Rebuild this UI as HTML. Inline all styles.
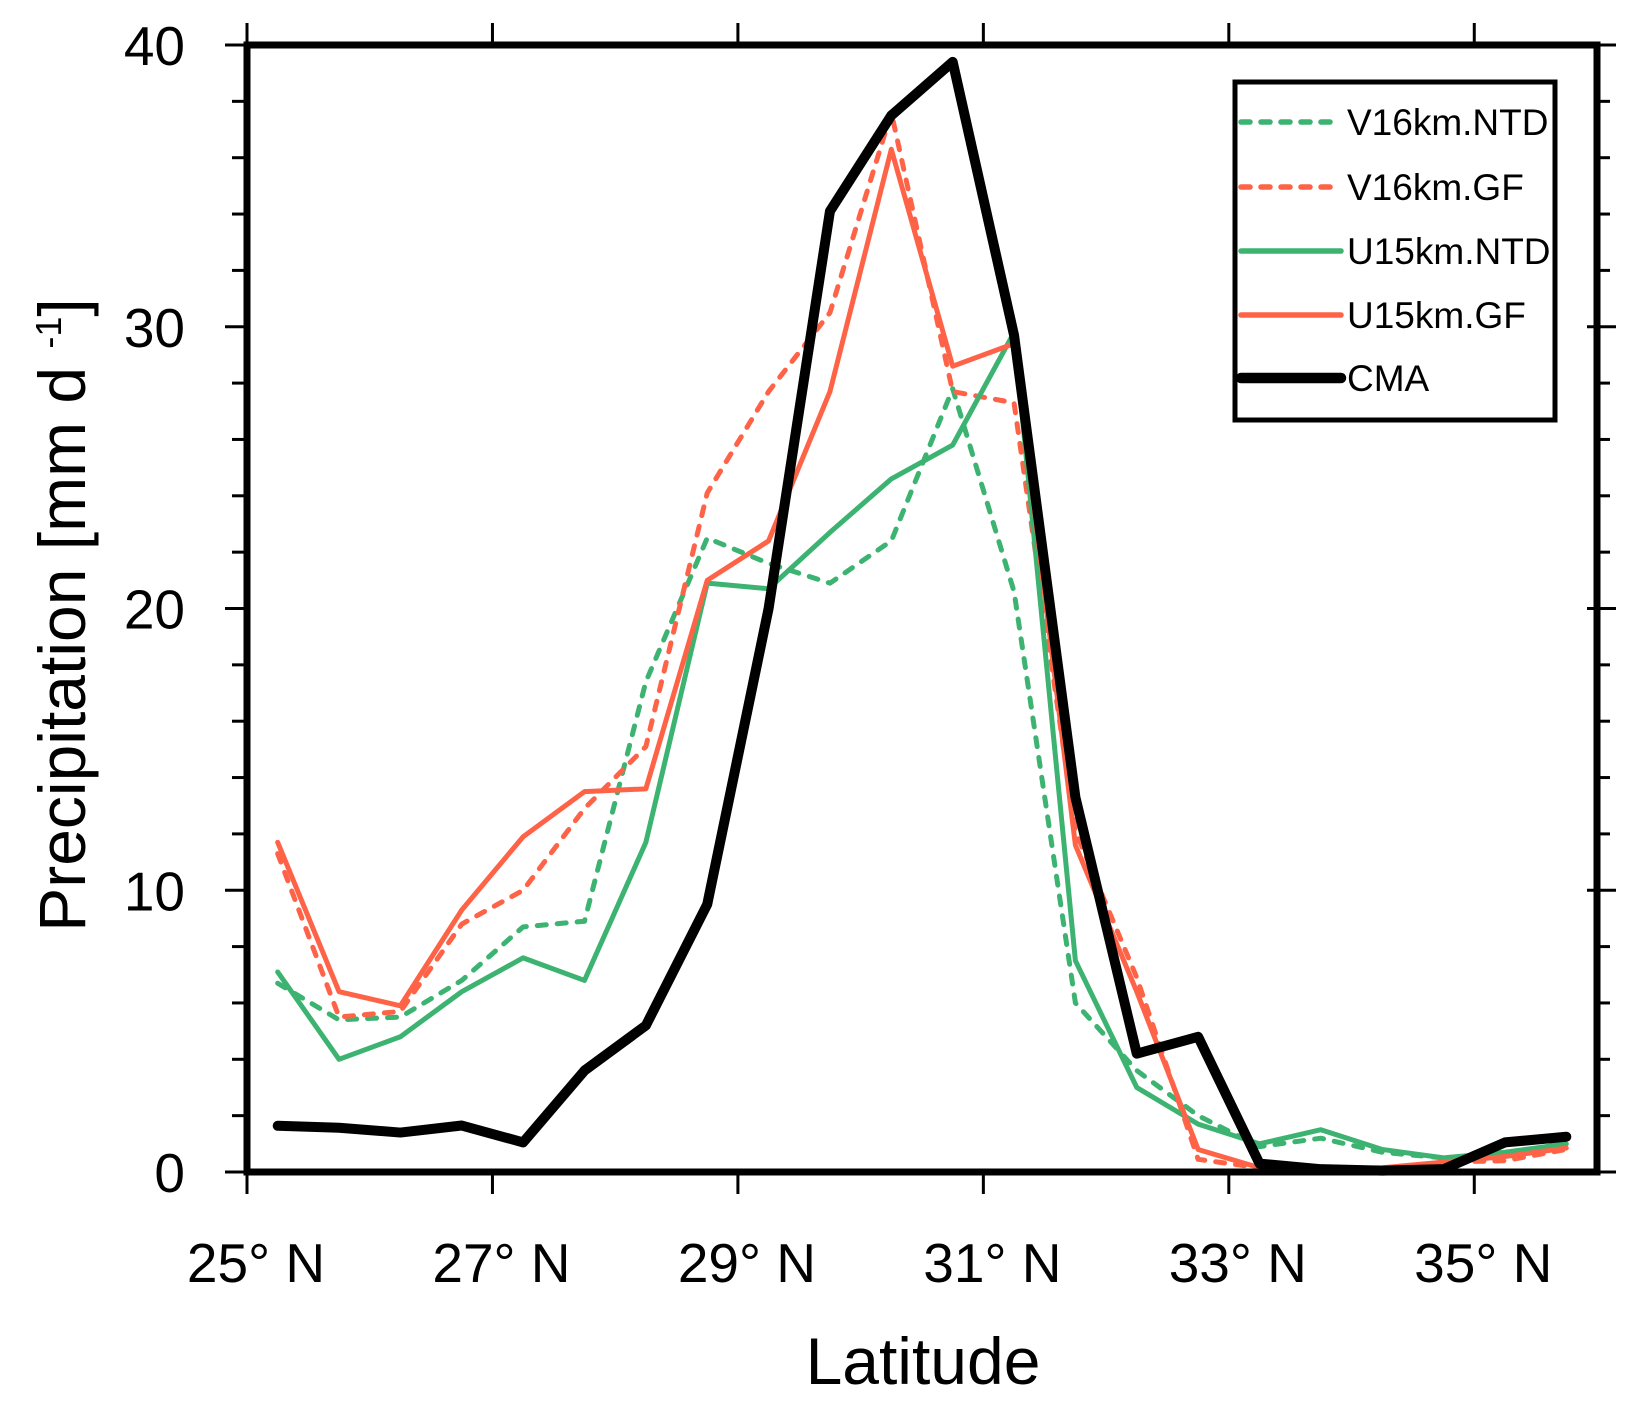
<!DOCTYPE html>
<html><head><meta charset="utf-8"><style>
html,body{margin:0;padding:0;background:#fff;}
svg{display:block;font-family:"Liberation Sans",sans-serif;}
</style></head><body>
<svg id="chart" width="1645" height="1411" viewBox="0 0 1645 1411" xmlns="http://www.w3.org/2000/svg">
<g id="marks"></g>
<g id="axes"></g>
<g id="legend"></g>
</svg>
<script>
const lats = [25.25,25.75,26.25,26.75,27.25,27.75,28.25,28.75,29.25,29.75,30.25,30.75,31.25,31.75,32.25,32.75,33.25,33.75,34.25,34.75,35.25,35.75];
const cma = [1.64,1.57,1.4,1.65,1.05,3.6,5.2,9.5,20,34.1,37.5,39.4,29.7,13.3,4.2,4.8,0.3,0.1,0.05,0.1,1.05,1.25];
const u15gf = [11.7,6.4,5.9,9.3,11.9,13.5,13.6,21,22.4,27.7,36.3,28.6,29.4,11.6,6.4,0.8,0.15,0.1,0.15,0.35,0.55,0.85];
const u15ntd = [7.1,4.0,4.8,6.4,7.6,6.8,11.7,20.9,20.7,22.7,24.6,25.8,29.8,7.5,3.0,1.7,1.0,1.5,0.8,0.5,0.7,1.0];
const v16ntd = [6.7,5.4,5.5,6.8,8.7,8.9,17.4,22.5,21.6,20.9,22.4,27.8,20.6,6.0,3.6,2.0,0.9,1.2,0.7,0.5,0.5,1.1];
const v16gf = [11.3,5.5,5.7,8.8,10.0,12.9,15.1,24.1,27.7,30.5,37.6,27.7,27.3,12.1,6.9,0.45,0.15,0.1,0.1,0.35,0.4,0.8];
const xTicks = [25,27,29,31,33,35];
const xTickLabels = ["25° N","27° N","29° N","31° N","33° N","35° N"];
const yTicks = [0,10,20,30,40];
const yTickLabels = ["0","10","20","30","40"];

const NS='http://www.w3.org/2000/svg';
const L=247,R=1597,T=45,B=1172,XMIN=25,XMAX=36,YMIN=0,YMAX=40;
const xs=v=>L+(v-XMIN)/(XMAX-XMIN)*(R-L);
const ys=v=>B-(v-YMIN)/(YMAX-YMIN)*(B-T);
function mk(tag,attrs,parent){const e=document.createElementNS(NS,tag);for(const k in attrs)e.setAttribute(k,attrs[k]);parent.appendChild(e);return e;}
const marks=document.getElementById('marks'),axes=document.getElementById('axes'),legend=document.getElementById('legend');
const GREEN='#3cb371',ORANGE='#ff6347';
const series=[
 {name:'v16km-ntd-line',label:'V16km.NTD',data:v16ntd,color:GREEN,w:5,dash:'9 11'},
 {name:'v16km-gf-line',label:'V16km.GF',data:v16gf,color:ORANGE,w:5,dash:'9 11'},
 {name:'u15km-ntd-line',label:'U15km.NTD',data:u15ntd,color:GREEN,w:5,dash:null},
 {name:'u15km-gf-line',label:'U15km.GF',data:u15gf,color:ORANGE,w:5,dash:null},
 {name:'cma-line',label:'CMA',data:cma,color:'#000',w:10,dash:null}
];
series.forEach(s=>{
 const p=mk('polyline',{points:s.data.map((v,i)=>xs(lats[i])+','+ys(v)).join(' '),fill:'none',stroke:s.color,'stroke-width':s.w,'stroke-linejoin':'round','stroke-linecap':'round'},marks);
 if(s.dash)p.setAttribute('stroke-dasharray',s.dash);
 
 
});
const fr=mk('rect',{x:L,y:T,width:R-L,height:B-T,fill:'none',stroke:'#000','stroke-width':7},axes);


for(let v=0;v<=40;v+=2){
 const y=ys(v),major=v%10===0;
 const a=mk('line',{x1:L-(major?22:15),x2:L,y1:y,y2:y,stroke:'#000','stroke-width':3},axes);
 
 
 const b=mk('line',{x1:R-(major?10:0),x2:R+(major?19:13),y1:y,y2:y,stroke:'#000','stroke-width':3},axes);
 
 
}
yTicks.forEach((v,i)=>{
 const t=mk('text',{x:185,y:ys(v)+20,'text-anchor':'end','font-size':55},axes);
 t.textContent=yTickLabels[i];
 
 
});
xTicks.forEach((v,i)=>{
 const x=xs(v);
 const a=mk('line',{x1:x,x2:x,y1:B,y2:B+22,stroke:'#000','stroke-width':3},axes);
 
 
 const b=mk('line',{x1:x,x2:x,y1:T,y2:T-22,stroke:'#000','stroke-width':3},axes);
 
 
 const t=mk('text',{x:x+9,y:1282,'text-anchor':'middle','font-size':55},axes);
 t.textContent=xTickLabels[i];
 
 
});
const xt=mk('text',{x:923,y:1384,'text-anchor':'middle','font-size':66},axes);
xt.textContent='Latitude';


const yt=mk('text',{x:0,y:0,'text-anchor':'middle','font-size':66,transform:'translate(85,615) rotate(-90)'},axes);
yt.innerHTML='Precipitation [mm d <tspan dy="-24" font-size="36">-1</tspan><tspan dy="24">]</tspan>';


const lb=mk('rect',{x:1235,y:82,width:320,height:338,fill:'#fff',stroke:'#000','stroke-width':5},legend);


const ly=[122,187,251,315,378];
series.forEach((s,i)=>{
 const g=mk('g',{},legend);
 
 
 const l=mk('line',{x1:1241,x2:1341,y1:ly[i],y2:ly[i],stroke:s.color,'stroke-width':s.w+0.5,'stroke-linecap':'round'},g);
 if(s.dash)l.setAttribute('stroke-dasharray',s.dash);
 const t=mk('text',{x:1347,y:ly[i]+13,'font-size':37},g);
 t.textContent=s.label;
});
</script>
</body></html>
